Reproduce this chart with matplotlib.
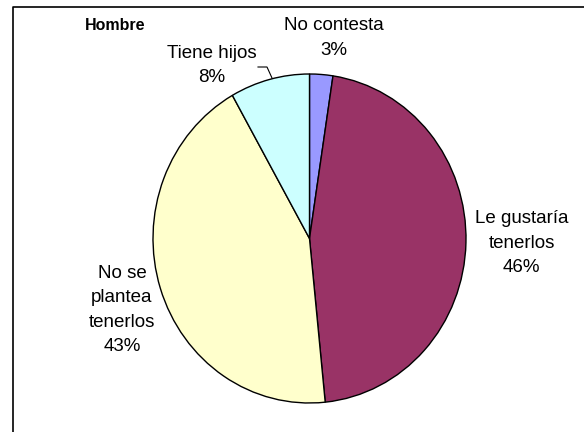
import matplotlib
matplotlib.use("Agg")
import matplotlib.pyplot as plt
from matplotlib.lines import Line2D

categories = ["No contesta", "Le gustaría\ntenerlos", "No se\nplantea\ntenerlos", "Tiene hijos"]
values = [2.4, 46.0, 43.4, 8.2]
pct_labels = ["3%", "46%", "43%", "8%"]
colors = ["#9999FF", "#993366", "#FFFFCC", "#CCFFFF"]
title = "Hombre"

plt.rcParams['font.family'] = ['Liberation Sans', 'DejaVu Sans']

W, H = 584, 432
fig = plt.figure(figsize=(W / 100, H / 100), dpi=100)

# pie ellipse extents in pixels (from top-left)
left, right, top, bottom = 153, 466, 74, 403
ax = fig.add_axes([left / W, 1 - bottom / H, (right - left) / W, (bottom - top) / H])
ax.pie(values, colors=colors, startangle=90, counterclock=False,
       wedgeprops=dict(edgecolor="black", linewidth=1.0))
ax.set_aspect('auto')
ax.set_xlim(-1, 1)
ax.set_ylim(-1, 1)
ax.axis('off')

def ftext(x, y, s, **kw):
    fig.text(x / W, 1 - y / H, s, ha="center", va="center", **kw)

label_pos = [(333.5, 38), (521.5, 243), (122, 310), (212, 65.5)]
spacings = [1.65, 1.55, 1.55, 1.6]
for cat, pct, (x, y), ls in zip(categories, pct_labels, label_pos, spacings):
    ftext(x, y, cat + "\n" + pct, fontsize=13.5, linespacing=ls, color="black")

ftext(115, 25, title, fontsize=11.5, fontweight="bold")

# leader line for "Tiene hijos"
xs = [258, 267, 272]
ys = [67, 67, 78]
fig.add_artist(Line2D([x / W for x in xs], [1 - y / H for y in ys],
                      color="black", linewidth=0.8, transform=fig.transFigure))

# chart frame (left and top edges visible)
fig.add_artist(Line2D([13 / W, 13 / W, 1.0], [0.0, 1 - 7 / H, 1 - 7 / H],
                      color="black", linewidth=1.2, transform=fig.transFigure))

fig.savefig("out.png", dpi=100)
